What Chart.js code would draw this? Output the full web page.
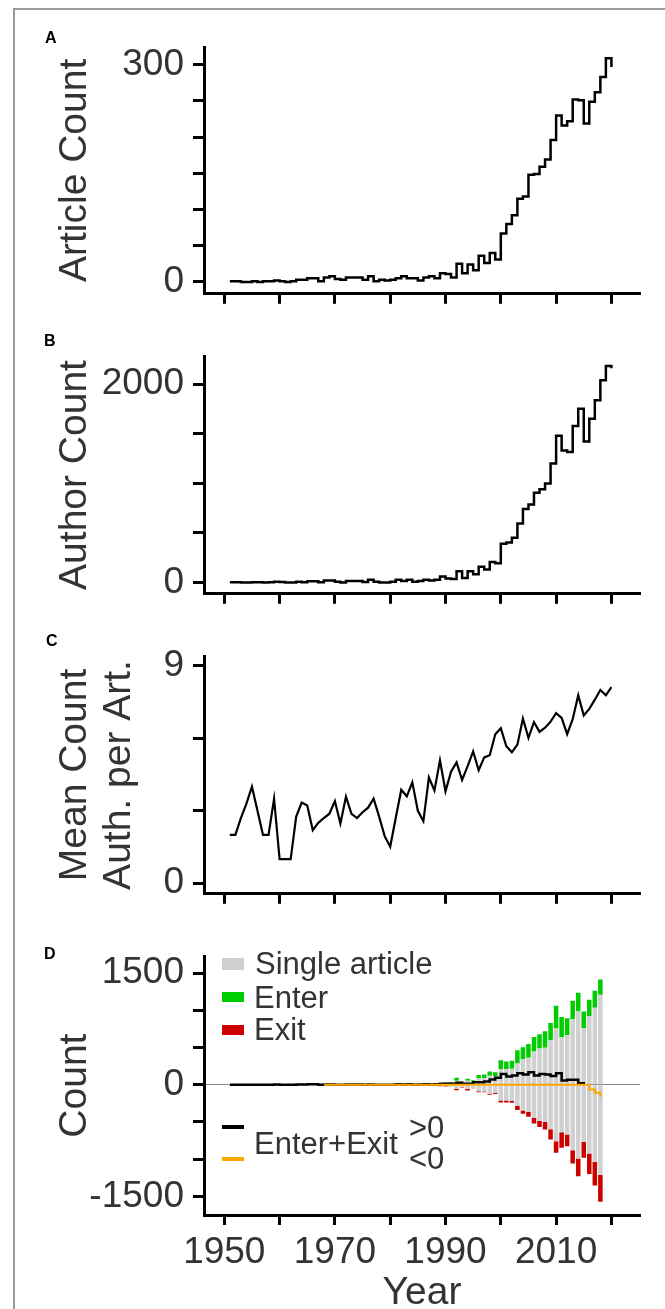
<!DOCTYPE html>
<html>
<head>
<meta charset="utf-8">
<title>Articles, authors and author turnover per year</title>
<script src="https://cdn.jsdelivr.net/npm/chart.js@4.4.1/dist/chart.umd.min.js"></script>
<style>
  body { margin: 0; background: #fff; }
  #page { position: relative; width: 665px; height: 1309px; overflow: hidden; font-family: 'Liberation Sans', Arial, sans-serif; color: #333; }
  #frame { position: absolute; left: 13px; top: 8px; width: 700px; height: 1400px; border-top: 2px solid #999; border-left: 2px solid #999; }
  .panel { position: absolute; left: 0; }
  .tag { position: absolute; font-weight: bold; font-size: 16px; line-height: 1; color: #000; }
  .leg { position: absolute; font-size: 31px; line-height: 1; white-space: nowrap; color: #333; }
  .sw { position: absolute; width: 22px; }
</style>
</head>
<body>
<div id="page">
  <div id="frame"></div>

  <canvas id="articleChart" class="panel" style="top:0px" width="665" height="325"></canvas>
  <canvas id="authorChart" class="panel" style="top:325px" width="665" height="300"></canvas>
  <canvas id="meanChart" class="panel" style="top:625px" width="665" height="300"></canvas>
  <canvas id="flowChart" class="panel" style="top:925px" width="665" height="384"></canvas>

  <div class="tag" style="left:45px; top:30px">A</div>
  <div class="tag" style="left:44px; top:333px">B</div>
  <div class="tag" style="left:46px; top:633px">C</div>
  <div class="tag" style="left:44px; top:946px">D</div>

  <div class="sw" style="left:222px; top:958px; height:12px; background:#d0d0d0"></div>
  <div class="leg" style="left:255px; top:948px">Single article</div>
  <div class="sw" style="left:222px; top:992px; height:10px; background:#00cd00"></div>
  <div class="leg" style="left:254px; top:982px">Enter</div>
  <div class="sw" style="left:222px; top:1025px; height:10px; background:#cd0000"></div>
  <div class="leg" style="left:254px; top:1014px">Exit</div>
  <div class="sw" style="left:222px; top:1125px; height:4px; background:#000"></div>
  <div class="sw" style="left:222px; top:1157px; height:4px; background:#ffa500"></div>
  <div class="leg" style="left:254px; top:1128px">Enter+Exit</div>
  <div class="leg" style="left:409px; top:1112px">&gt;0</div>
  <div class="leg" style="left:409px; top:1143px">&lt;0</div>
</div>

<script>
// yearly values, 1951-2020
const years = [
    1951, 1952, 1953, 1954, 1955, 1956, 1957, 1958, 1959, 1960,
    1961, 1962, 1963, 1964, 1965, 1966, 1967, 1968, 1969, 1970,
    1971, 1972, 1973, 1974, 1975, 1976, 1977, 1978, 1979, 1980,
    1981, 1982, 1983, 1984, 1985, 1986, 1987, 1988, 1989, 1990,
    1991, 1992, 1993, 1994, 1995, 1996, 1997, 1998, 1999, 2000,
    2001, 2002, 2003, 2004, 2005, 2006, 2007, 2008, 2009, 2010,
    2011, 2012, 2013, 2014, 2015, 2016, 2017, 2018, 2019, 2020
];
const articleCount = [
    1, 1, 0, 0, 1, 0, 1, 1, 2, 1,
    0, 1, 3, 3, 5, 5, 1, 6, 8, 4,
    3, 6, 6, 6, 3, 8, 1, 3, 2, 3,
    5, 8, 5, 5, 2, 6, 8, 5, 12, 11,
    6, 25, 12, 24, 16, 36, 26, 40, 31, 67,
    80, 92, 115, 118, 148, 149, 159, 169, 196, 230,
    216, 222, 252, 251, 219, 249, 262, 283, 309, 297
];
const authorCount = [
    2, 2, 0, 0, 2, 2, 0, 2, 6, 3,
    0, 0, 6, 2, 12, 12, 2, 20, 20, 6,
    0, 15, 15, 15, 5, 27, 6, 0, 0, 6,
    27, 15, 27, 6, 15, 27, 20, 27, 60, 40,
    33, 112, 45, 112, 82, 157, 130, 205, 193, 390,
    402, 450, 595, 740, 785, 903, 940, 997, 1199, 1480,
    1329, 1314, 1577, 1752, 1420, 1650, 1837, 2039, 2181, 2160
];
const meanAuthors = [
    2.0, 2.0, 2.7, 3.3, 4.0, 3.0, 2.0, 2.0, 3.5, 1.0,
    1.0, 1.0, 2.76, 3.34, 3.22, 2.2, 2.5, 2.7, 2.88, 3.4,
    2.47, 3.59, 2.87, 2.7, 2.94, 3.13, 3.5, 2.76, 1.95, 1.51,
    2.7, 3.87, 3.6, 4.18, 3.0, 2.57, 4.38, 3.84, 5.09, 3.81,
    4.62, 5.0, 4.28, 4.85, 5.46, 4.68, 5.21, 5.3, 6.17, 6.42,
    5.67, 5.42, 5.74, 6.82, 6.02, 6.67, 6.27, 6.44, 6.69, 7.04,
    6.85, 6.17, 6.79, 7.78, 6.95, 7.22, 7.6, 8.0, 7.78, 8.12
];

// author turnover, 1951-2018
const flowYears = [
    1951, 1952, 1953, 1954, 1955, 1956, 1957, 1958, 1959, 1960,
    1961, 1962, 1963, 1964, 1965, 1966, 1967, 1968, 1969, 1970,
    1971, 1972, 1973, 1974, 1975, 1976, 1977, 1978, 1979, 1980,
    1981, 1982, 1983, 1984, 1985, 1986, 1987, 1988, 1989, 1990,
    1991, 1992, 1993, 1994, 1995, 1996, 1997, 1998, 1999, 2000,
    2001, 2002, 2003, 2004, 2005, 2006, 2007, 2008, 2009, 2010,
    2011, 2012, 2013, 2014, 2015, 2016, 2017, 2018
];
const singleArticle = [
    1, 1, 0, 0, 1, 0, 1, 1, 2, 1,
    0, 1, 2, 2, 3, 3, 1, 4, 5, 3,
    2, 4, 4, 4, 2, 5, 1, 2, 1, 2,
    3, 5, 3, 3, 1, 4, 5, 3, 15, 20,
    25, 55, 30, 55, 40, 88, 90, 122, 112, 212,
    212, 214, 285, 345, 362, 446, 488, 499, 598, 760,
    638, 668, 880, 990, 765, 925, 1035, 1212
];
const enterCount = [
    2, 1, 0, 0, 1, 1, 0, 1, 3, 1,
    0, 0, 3, 1, 5, 5, 1, 8, 8, 2,
    0, 6, 6, 6, 2, 10, 2, 0, 0, 2,
    10, 6, 10, 2, 6, 10, 8, 10, 8, 12,
    8, 40, 10, 25, 20, 45, 49, 57, 58, 119,
    101, 110, 180, 160, 186, 198, 190, 220, 234, 304,
    274, 225, 251, 247, 221, 220, 230, 205
];
const exitCount = [
    0, 0, 0, 0, 0, 0, 0, 0, 0, 0,
    0, 0, 0, 0, 0, 0, 0, -2, -3, -2,
    -1, -3, -3, -3, -1, -4, -1, -1, -1, -1,
    -2, -3, -2, -2, -1, -3, -3, -2, -5, -6,
    -6, -17, -8, -22, -8, -13, -9, -13, -13, -26,
    -26, -26, -53, -45, -67, -75, -79, -101, -137, -155,
    -208, -159, -177, -239, -216, -274, -318, -362
];
const netPositive = [
    2, 1, 0, 0, 1, 1, 0, 1, 3, 1,
    0, 0, 5, 5, 8, 8, 2, 4, 4, 2,
    0, 3, 3, 3, 1, 5, 1, 0, 0, 1,
    6, 3, 6, 1, 4, 6, 4, 8, 13, 13,
    13, 26, 13, 13, 35, 35, 44, 70, 93, 145,
    110, 124, 154, 137, 168, 124, 145, 137, 119, 154,
    57, 66, 66, 22, 0, null, null, null
];
const netNegative = [
    null, null, null, null, null, null, null, null, null, null,
    null, null, null, null, null, null, null, 0, 0, 0,
    0, 0, 0, 0, 0, 0, 0, 0, 0, 0,
    0, 0, 0, 0, 0, 0, 0, 0, 0, 0,
    0, 0, 0, 0, 0, 0, 0, 0, 0, 0,
    0, 0, 0, 0, 0, 0, 0, 0, 0, 0,
    0, 0, 0, 0, 0, -65, -106, -160
];

// ticks
const yearTicks = [1950, 1960, 1970, 1980, 1990, 2000, 2010, 2020];
const yearLabels = [1950, 1970, 1990, 2010];
const articleTicks = [0, 50, 100, 150, 200, 250, 300];
const articleLabels = [0, 300];
const authorTicks = [0, 500, 1000, 1500, 2000];
const authorLabels = [0, 2000];
const meanTicks = [0, 3, 6, 9];
const meanLabels = [0, 9];
const flowTicks = [-1500, -1000, -500, 0, 500, 1000, 1500];
const flowLabels = [-1500, 0, 1500];

const FONT = "'Liberation Sans', Arial, sans-serif";
const TEXT = '#333';

document.addEventListener('DOMContentLoaded', function() {
    drawArticleChart();
    drawAuthorChart();
    drawMeanChart();
    drawFlowChart();
});

function points(xs, ys) {
    return xs.map((x, i) => ({ x: x, y: ys[i] }));
}

function xAxis(height, showLabels) {
    return {
        type: 'linear',
        min: 1946.33,
        max: 2025.17,
        offset: false,
        afterBuildTicks: axis => { axis.ticks = yearTicks.map(v => ({ value: v })); },
        afterFit: axis => { axis.height = height; },
        border: { display: true, color: '#000', width: 3 },
        grid: { offset: false, drawOnChartArea: false, drawTicks: true, tickLength: 10, tickWidth: 3, tickColor: '#000' },
        ticks: {
            autoSkip: false,
            maxRotation: 0,
            minRotation: 0,
            padding: 6,
            color: TEXT,
            font: { family: FONT, size: 37 },
            callback: v => (showLabels && yearLabels.includes(v)) ? String(v) : ''
        },
        title: {
            display: showLabels,
            text: 'Year',
            color: TEXT,
            padding: { top: 0, bottom: 0 },
            font: { family: FONT, size: 39, lineHeight: 0.8 }
        }
    };
}

function yAxis(min, max, tickValues, labelValues, title, zeroLine) {
    return {
        type: 'linear',
        min: min,
        max: max,
        afterBuildTicks: axis => { axis.ticks = tickValues.map(v => ({ value: v })); },
        afterFit: axis => { axis.width = 204; },
        border: { display: true, color: '#000', width: 3 },
        grid: {
            drawOnChartArea: zeroLine,
            drawTicks: true,
            tickLength: 11,
            tickWidth: 3,
            tickColor: '#000',
            lineWidth: 1,
            color: c => (c.tick && c.tick.value === 0) ? '#888' : 'rgba(0,0,0,0)'
        },
        ticks: {
            autoSkip: false,
            padding: 9,
            color: TEXT,
            font: { family: FONT, size: 37 },
            callback: v => labelValues.includes(v) ? String(v) : ''
        },
        title: {
            display: true,
            text: title,
            color: TEXT,
            padding: { top: 53, bottom: 0 },
            font: { family: FONT, size: 39, lineHeight: 1.128 }
        }
    };
}

function baseOptions(top, xHeight, showLabels, y) {
    return {
        responsive: false,
        animation: false,
        layout: { padding: { top: top, left: 0, right: 25, bottom: 0 } },
        plugins: {
            legend: { display: false },
            tooltip: { enabled: false }
        },
        scales: {
            x: xAxis(xHeight, showLabels),
            y: y
        }
    };
}

function drawArticleChart() {
    const ctx = document.getElementById('articleChart').getContext('2d');
    new Chart(ctx, {
        type: 'line',
        data: {
            datasets: [{
                label: 'Article Count',
                data: points(years, articleCount),
                borderColor: '#000',
                borderWidth: 2.5,
                pointRadius: 0,
                stepped: true,
                fill: false
            }]
        },
        options: baseOptions(47, 14, false,
            yAxis(-16.4, 324.5, articleTicks, articleLabels, 'Article Count', false))
    });
}

function drawAuthorChart() {
    const ctx = document.getElementById('authorChart').getContext('2d');
    new Chart(ctx, {
        type: 'line',
        data: {
            datasets: [{
                label: 'Author Count',
                data: points(years, authorCount),
                borderColor: '#000',
                borderWidth: 2.5,
                pointRadius: 0,
                stepped: true,
                fill: false
            }]
        },
        options: baseOptions(23.3, 12.3, false,
            yAxis(-115, 2281, authorTicks, authorLabels, 'Author Count', false))
    });
}

function drawMeanChart() {
    const ctx = document.getElementById('meanChart').getContext('2d');
    new Chart(ctx, {
        type: 'line',
        data: {
            datasets: [{
                label: 'Mean Count Auth. per Art.',
                data: points(years, meanAuthors),
                borderColor: '#000',
                borderWidth: 2.2,
                pointRadius: 0,
                tension: 0,
                fill: false
            }]
        },
        options: baseOptions(25, 11, false,
            yAxis(-0.436, 9.4, meanTicks, meanLabels, ['Mean Count', 'Auth. per Art.'], false))
    });
}

function drawFlowChart() {
    const ctx = document.getElementById('flowChart').getContext('2d');
    const bar = {
        type: 'bar',
        stack: 'authors',
        barPercentage: 0.82,
        categoryPercentage: 1,
        borderWidth: 0,
        order: 2
    };
    const options = baseOptions(27, 94, true,
        yAxis(-1751, 1729, flowTicks, flowLabels, 'Count', true));
    options.scales.y.stacked = true;

    new Chart(ctx, {
        type: 'bar',
        data: {
            datasets: [
                Object.assign({}, bar, {
                    label: 'Single article',
                    data: points(flowYears, singleArticle),
                    backgroundColor: '#d0d0d0'
                }),
                Object.assign({}, bar, {
                    label: 'Enter',
                    data: points(flowYears, enterCount),
                    backgroundColor: '#00cd00'
                }),
                Object.assign({}, bar, {
                    label: 'Single article (mirrored)',
                    data: points(flowYears, singleArticle.map(v => -v)),
                    backgroundColor: '#d0d0d0'
                }),
                Object.assign({}, bar, {
                    label: 'Exit',
                    data: points(flowYears, exitCount),
                    backgroundColor: '#cd0000'
                }),
                {
                    type: 'line',
                    label: 'Enter+Exit >0',
                    stack: 'netPos',
                    data: points(flowYears, netPositive),
                    borderColor: '#000',
                    borderWidth: 2.5,
                    pointRadius: 0,
                    stepped: true,
                    fill: false,
                    order: 1
                },
                {
                    type: 'line',
                    label: 'Enter+Exit <0',
                    stack: 'netNeg',
                    data: points(flowYears, netNegative),
                    borderColor: '#ffa500',
                    borderWidth: 2,
                    pointRadius: 0,
                    stepped: true,
                    fill: false,
                    order: 0
                }
            ]
        },
        options: options
    });
}
</script>
</body>
</html>
